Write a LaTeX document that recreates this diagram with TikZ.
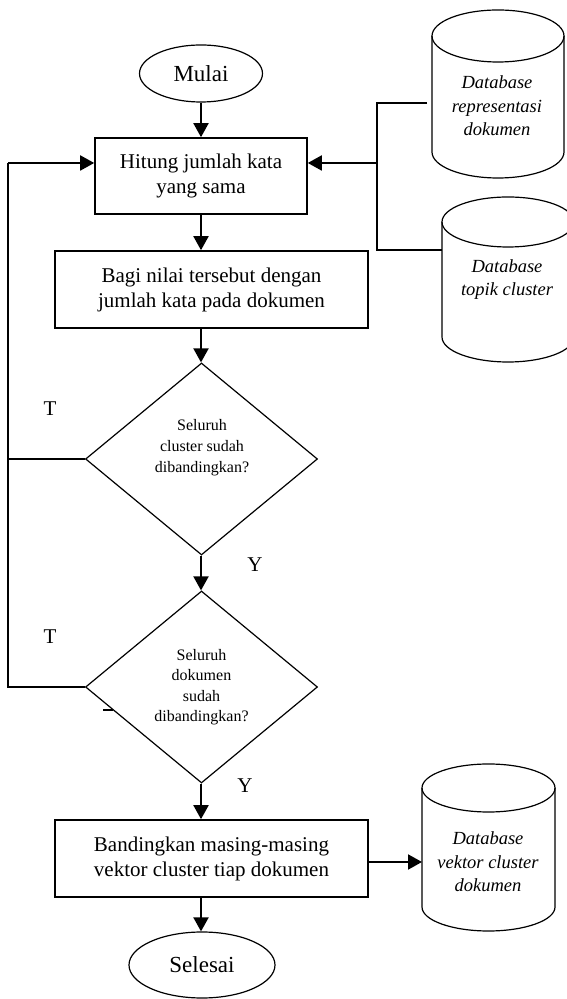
\documentclass[tikz,border=0pt]{standalone}
\usepackage{fontspec}
\setmainfont{Liberation Serif}
\usetikzlibrary{shapes.geometric,arrows.meta}
\begin{document}
\begin{tikzpicture}[x=1pt,y=1pt,
  proc/.style={draw, rectangle, line width=1.6pt, inner sep=0pt, align=center, font=\fontsize{21}{25}\selectfont},
  term/.style={draw, ellipse, line width=1.2pt, inner sep=0pt, font=\fontsize{23}{27}\selectfont},
  dec/.style={draw, diamond, line width=1.2pt, inner sep=0pt, align=center, font=\fontsize{16}{20.5}\selectfont},
  dtext/.style={align=center, inner sep=0pt, font=\fontsize{16}{21}\selectfont},
  dbtext/.style={align=center, inner sep=0pt, font=\itshape\fontsize{18.5}{23.5}\selectfont},
  lab/.style={inner sep=0pt, font=\fontsize{21}{25}\selectfont},
  arr/.style={line width=1.9pt, -{Triangle[width=15pt,length=14pt]}},
  conn/.style={line width=1.9pt},
  db/.style={line width=1.2pt}]
\useasboundingbox (0,0) rectangle (566,999);

% main flow
\node[term, minimum width=123pt, minimum height=57pt] (mulai) at (201,925.5) {Mulai};
\node[proc, minimum width=212pt, minimum height=76pt] (b1) at (201,823) {Hitung jumlah kata\\yang sama};
\node[proc, minimum width=313pt, minimum height=77pt] (b2) at (211.5,709.5) {Bagi nilai tersebut dengan\\jumlah kata pada dokumen};
\node[dec, minimum width=232pt, minimum height=192pt] (d1) at (201.5,540) {};
\node[dtext] (d1t) at (202,551) {Seluruh\\cluster sudah\\dibandingkan?};
\node[dec, minimum width=232pt, minimum height=192pt] (d2) at (201.5,312) {Seluruh\\dokumen\\sudah\\dibandingkan?};
\node[proc, minimum width=313pt, minimum height=77pt] (b3) at (211.5,140.5) {Bandingkan masing-masing\\vektor cluster tiap dokumen};
\node[term, minimum width=146pt, minimum height=66pt] (sel) at (202,34) {Selesai};

% labels
\node[lab] (t1) at (50,590) {T};
\node[lab] (t2) at (50,362) {T};
\node[lab] (y1) at (255,434) {Y};
\node[lab] (y2) at (245,213) {Y};

% databases
\draw[db] (432,963) -- (432,847) arc[start angle=180,end angle=360,x radius=66pt,y radius=26pt] -- (564,963);
\draw[db] (498,963) ellipse[x radius=66pt,y radius=26pt];
\node[dbtext] (c1t) at (497,893) {Database\\representasi\\dokumen};

\draw[db] (442,777) -- (442,662) arc[start angle=180,end angle=360,x radius=66pt,y radius=25pt] -- (574,777);
\draw[db] (508,777) ellipse[x radius=66pt,y radius=25pt];
\node[dbtext] (c2t) at (507,719.5) {Database\\topik cluster};

\draw[db] (422,211) -- (422,92) arc[start angle=180,end angle=360,x radius=66.5pt,y radius=24pt] -- (555,211);
\draw[db] (488.5,211) ellipse[x radius=66.5pt,y radius=24pt];
\node[dbtext] (c3t) at (488,137) {Database\\vektor cluster\\dokumen};

% coordinates
\coordinate (lt) at (8,836);
\coordinate (jm) at (377,836);
\coordinate (j1) at (377,896);
\coordinate (j2) at (377,749);
\coordinate (c1w) at (427,896);
\coordinate (c2w) at (442,749);
\coordinate (c3w) at (422,137);
\coordinate (dsa) at (103,289);
\coordinate (dsb) at (113,289);

% connectors
\draw[arr] (mulai.south) -- (b1.north);
\draw[arr] (b1.south) -- (b1.south |- b2.north);
\draw[arr] (b1.south |- b2.south) -- (b1.south |- d1.north);
\draw[arr] (b1.south |- d1.south) -- (b1.south |- d2.north);
\draw[arr] (b1.south |- d2.south) -- (b1.south |- b3.north);
\draw[arr] (b1.south |- b3.south) -- (b1.south |- sel.north);
\draw[conn] (d1.west) -- (d1.west -| lt);
\draw[conn] (d2.west) -- (d2.west -| lt) -- (lt);
\draw[arr] (lt) -- (lt -| b1.west);
\draw[conn] (c1w) -- (j1) -- (j2) -- (c2w);
\draw[arr] (jm) -- (jm -| b1.east);
\draw[arr] (c3w -| b3.east) -- (c3w);
\draw[db] (dsa) -- (dsb);
\end{tikzpicture}
\end{document}
